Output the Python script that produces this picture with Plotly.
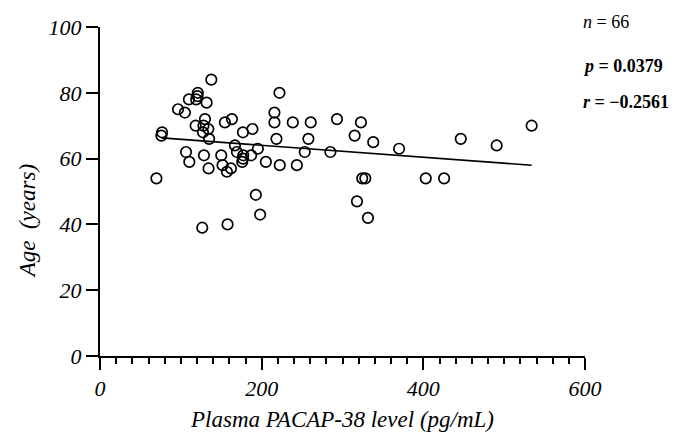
import plotly.graph_objects as go

# Plasma PACAP-38 level (pg/mL)
pacap = [137.7, 121, 120.6, 119, 110, 131.9, 96.5, 105, 129.9, 118.3,
         128, 134, 127.4, 135, 76.8, 75.9, 154.5, 163.2, 176.8, 188.6,
         106.4, 110.5, 128.6, 134.3, 150, 151.6, 157, 162, 166.9, 169.4,
         177.2, 176.8, 175.9, 187, 195.3, 205.2, 69.8, 192.8, 198.1, 126.5,
         157.8, 222, 215.8, 215.8, 238.5, 260.7, 293.2, 322.8, 218.3, 257.8,
         315, 338, 253.3, 285, 370, 446.3, 490.7, 534, 222.4, 243.5,
         324.4, 328.2, 403, 425.7, 317.9, 331.5]
# Age (years)
age = [84, 80, 79, 78, 78, 77, 75, 74, 72, 70,
       70, 69, 68, 66, 68, 67, 71, 72, 68, 69,
       62, 59, 61, 57, 61, 58, 56, 57, 64, 62,
       61, 60, 59, 61, 63, 59, 54, 49, 43, 39,
       40, 80, 74, 71, 71, 71, 72, 71, 66, 66,
       67, 65, 62, 62, 63, 66, 64, 70, 58, 58,
       54, 54, 54, 54, 47, 42]

# Linear regression line
fit_x = [76, 534]
fit_y = [66.3, 58.0]

x_ticks = [0, 200, 400, 600]
y_ticks = [0, 20, 40, 60, 80, 100]

stats_lines = ["<i>n</i> = 66", "<b><i>p</i> = 0.0379</b>", "<b><i>r</i> = \u22120.2561</b>"]
stats_y = [1.014, 0.880, 0.771]

FONT = "Liberation Serif"
TICK_SIZE = 22

fig = go.Figure()
fig.add_trace(go.Scatter(x=fit_x, y=fit_y, mode="lines",
                         line=dict(color="black", width=1.6),
                         showlegend=False, hoverinfo="skip"))
fig.add_trace(go.Scatter(x=pacap, y=age, mode="markers",
                         marker=dict(symbol="circle-open", size=10.5, color="black",
                                     line=dict(color="black", width=1.7)),
                         showlegend=False))

for txt, yy in zip(stats_lines, stats_y):
    fig.add_annotation(text=txt, xref="paper", yref="paper", x=0.991, y=yy,
                       xanchor="left", yanchor="middle", showarrow=False,
                       font=dict(family=FONT, size=18, color="black"))

# y-axis title placed as rotated annotation
fig.add_annotation(text="<i>Age\u00a0\u00a0(years)</i>", xref="paper", yref="paper",
                   x=-0.15, y=0.41, xanchor="center", yanchor="middle",
                   textangle=-90, showarrow=False,
                   font=dict(family=FONT, size=23, color="black"))

fig.update_layout(
    width=683, height=436,
    margin=dict(l=99.5, r=97.5, t=26.5, b=79.5, autoexpand=False),
    paper_bgcolor="white", plot_bgcolor="white",
    font=dict(family=FONT, color="black"),
)
fig.update_xaxes(
    range=[0, 600], tickmode="array", tickvals=x_ticks,
    ticktext=[f"<i>{v}</i>" for v in x_ticks],
    showgrid=False, zeroline=False, automargin=False,
    showline=True, linecolor="black", linewidth=2,
    ticks="outside", ticklen=12, tickwidth=2, tickcolor="black",
    tickfont=dict(family=FONT, size=TICK_SIZE, color="black", style="italic"),
    minor=dict(tick0=0, dtick=20, ticks="outside", ticklen=6, tickwidth=1.5,
               tickcolor="black", showgrid=False),
    title=dict(text="<i>Plasma PACAP-38 level (pg/mL)</i>", standoff=10,
               font=dict(family=FONT, size=23, color="black")),
)
fig.update_yaxes(
    range=[0, 100], tickmode="array", tickvals=y_ticks,
    ticktext=[f"<i>{v}</i>" for v in y_ticks],
    showgrid=False, zeroline=False, automargin=False,
    showline=True, linecolor="black", linewidth=2,
    ticks="outside", ticklen=12, tickwidth=2, tickcolor="black",
    tickfont=dict(family=FONT, size=TICK_SIZE, color="black", style="italic"),
)

fig.write_html("out.html")
